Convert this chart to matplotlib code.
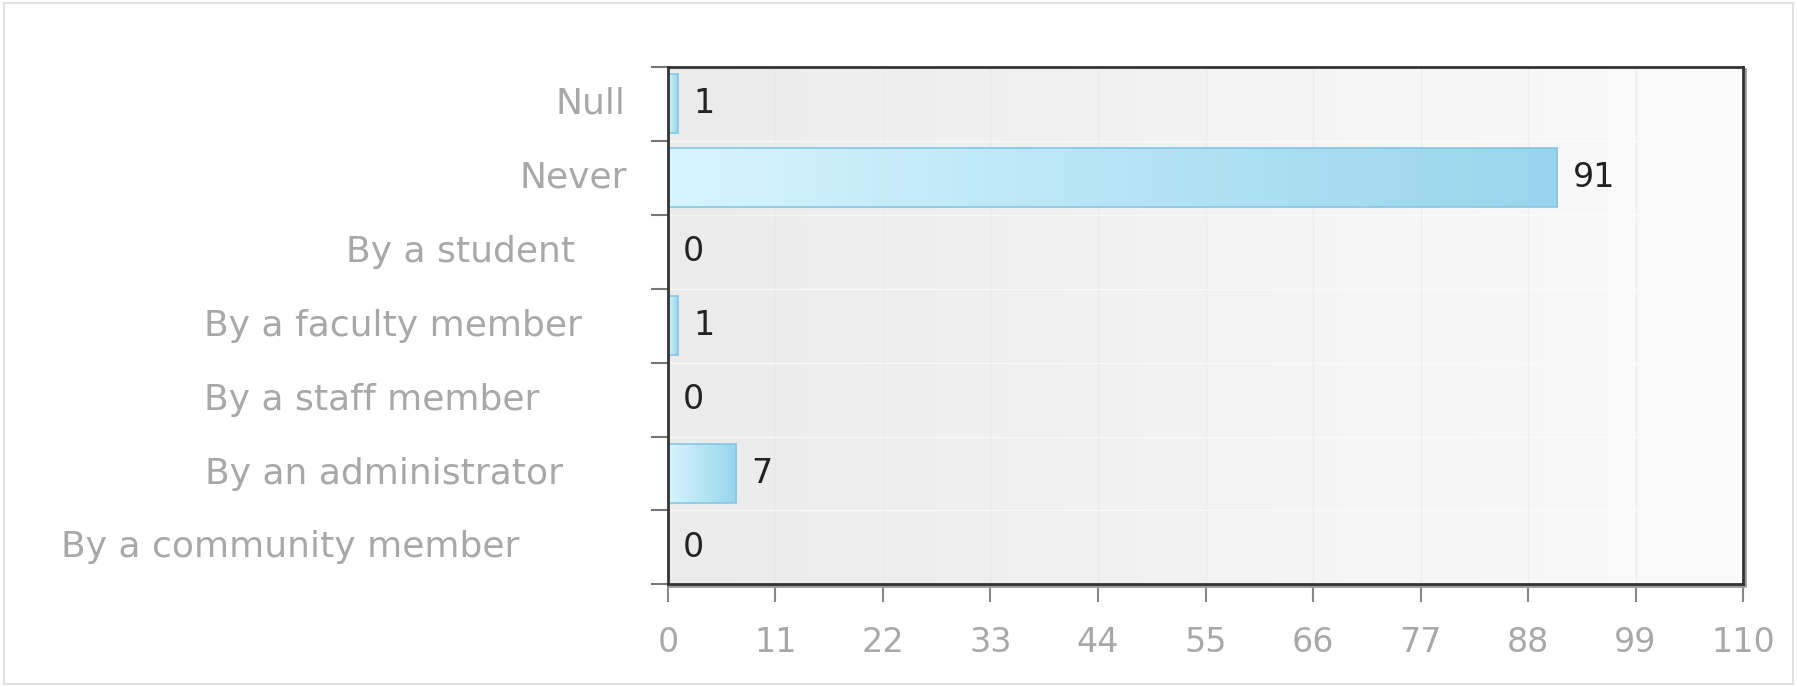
import numpy as np
import matplotlib.pyplot as plt
from matplotlib.colors import LinearSegmentedColormap
from matplotlib.patches import Rectangle
import matplotlib.transforms as mtransforms

categorias = ['Null', 'Never', 'By a student', 'By a faculty member',
              'By a staff member', 'By an administrator', 'By a community member']
valores = [1, 91, 0, 1, 0, 7, 0]
ticks_x = np.arange(0, 111, 11)
# separacion (px) entre cada etiqueta y el eje, como en el original
pad_etiquetas = [43, 41, 93, 86, 129, 105, 149]

fig = plt.figure(figsize=(17.97, 6.87), dpi=100)
fig.patch.set_facecolor('white')
fig.patches.append(Rectangle((0.002, 0.004), 0.996, 0.992, transform=fig.transFigure,
                             fill=False, edgecolor='#e2e2e2', linewidth=1.5))

ax = fig.add_axes([0.3717, 0.1492, 0.5983, 0.754])
ax.set_xlim(0, 110)
ax.set_ylim(len(categorias) - 0.5, -0.5)

# fondo con degradado
fondo = LinearSegmentedColormap.from_list('fondo', ['#ebebeb', '#fbfbfb'])
grad = np.linspace(0, 1, 256).reshape(1, -1)
ax.imshow(grad, extent=[0, 110, len(categorias) - 0.5, -0.5], aspect='auto',
          cmap=fondo, zorder=0)

for x in ticks_x[1:-1]:
    ax.axvline(x, color='#e4e4e4', linewidth=1, alpha=0.5, zorder=1)
for y in np.arange(0.5, len(categorias) - 0.5, 1):
    ax.axhline(y, color='white', linewidth=1, alpha=0.6, zorder=1)

# barras con degradado
azul = LinearSegmentedColormap.from_list('azul', ['#d6f4fd', '#97d5ec'])
y = np.arange(len(categorias))
barras = ax.barh(y, valores, height=0.8, facecolor='none', edgecolor='#86c6e4',
                 linewidth=1.2, zorder=3)
for b in barras:
    if b.get_width() == 0:
        continue
    x0, y0 = b.get_x(), b.get_y()
    w, h = b.get_width(), b.get_height()
    im = ax.imshow(grad, extent=[x0, x0 + w, y0 + h, y0], aspect='auto',
                   cmap=azul, zorder=2)
    im.set_clip_path(b)

for yi, v in zip(y, valores):
    ax.annotate(str(v), (v, yi), xytext=(11, 0), textcoords='offset points',
                va='center', ha='left', fontsize=24, color='#222222', zorder=4)

ax.set_xticks(ticks_x)
ax.set_xticklabels([str(t) for t in ticks_x], fontsize=24, color='#a8a8a8')
ax.tick_params(axis='x', direction='out', length=13, width=1.5, color='#888888', pad=17)

ax.set_yticks(np.arange(-0.5, len(categorias) + 0.5, 1))
ax.set_yticklabels([])
ax.tick_params(axis='y', direction='out', length=12, width=1.5, color='#777777')

for yi, cat, pad in zip(y, categorias, pad_etiquetas):
    tr = ax.get_yaxis_transform() + mtransforms.ScaledTranslation(-pad / 100, 0, fig.dpi_scale_trans)
    ax.text(0, yi, cat, transform=tr, ha='right', va='center', fontsize=26, color='#a8a8a8')

# sombra bajo el borde inferior y derecho
sombra = mtransforms.offset_copy(ax.transAxes, fig=fig, x=2, y=-2, units='dots')
ax.plot([0, 1, 1], [0, 0, 1], transform=sombra, color='#9a9a9a', linewidth=2,
        clip_on=False, zorder=4)

for s in ax.spines.values():
    s.set_color('#333333')
    s.set_linewidth(2)
    s.set_zorder(5)

plt.savefig('out.png', dpi=100)
